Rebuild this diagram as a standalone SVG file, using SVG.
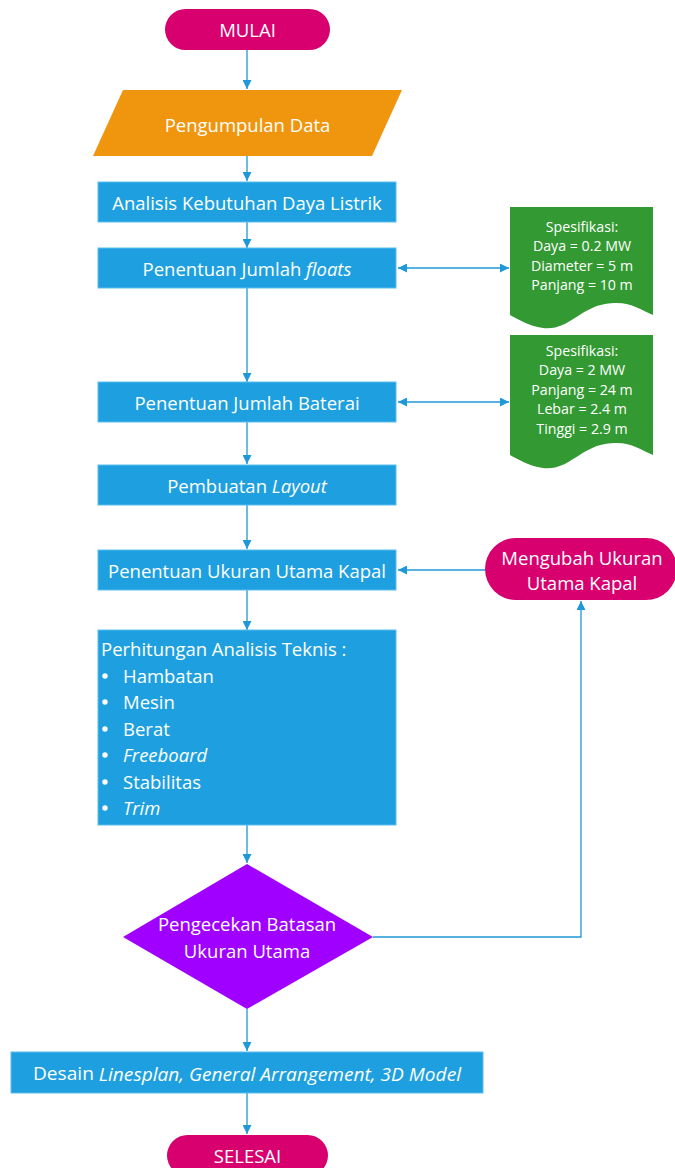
<svg xmlns="http://www.w3.org/2000/svg" width="675" height="1168" viewBox="0 0 675 1168">
<style>
.t{font-family:"Open Sans","Noto Sans",sans-serif;fill:#fff;text-anchor:middle;dominant-baseline:central}
.m{font-size:18.5px}
.s{font-size:14.2px}
.l{text-anchor:start}
.proc{fill:#1EA0E0;stroke:#5BBDEB;stroke-width:1}
.term{fill:#D8006E}
.c{fill:none;stroke:#1E98D6;stroke-width:1.3}
</style>
<defs>
<marker id="a" viewBox="0 0 10 10" refX="10" refY="5" markerWidth="9" markerHeight="9" markerUnits="userSpaceOnUse" orient="auto-start-reverse">
<path d="M0,0 L10,5 L0,10 Z" fill="#1E98D6"/>
</marker>
</defs>
<g id="connectors">
<line class="c" x1="247" y1="50" x2="247" y2="89" marker-end="url(#a)"/>
<line class="c" x1="247" y1="156" x2="247" y2="181" marker-end="url(#a)"/>
<line class="c" x1="247" y1="222" x2="247" y2="248" marker-end="url(#a)"/>
<line class="c" x1="398" y1="268" x2="509" y2="268" marker-start="url(#a)" marker-end="url(#a)"/>
<line class="c" x1="247" y1="288" x2="247" y2="382" marker-end="url(#a)"/>
<line class="c" x1="398" y1="402" x2="509" y2="402" marker-start="url(#a)" marker-end="url(#a)"/>
<line class="c" x1="247" y1="422" x2="247" y2="464" marker-end="url(#a)"/>
<line class="c" x1="247" y1="505" x2="247" y2="549" marker-end="url(#a)"/>
<line class="c" x1="485" y1="570" x2="398" y2="570" marker-end="url(#a)"/>
<line class="c" x1="247" y1="590" x2="247" y2="630" marker-end="url(#a)"/>
<line class="c" x1="247" y1="825" x2="247" y2="863" marker-end="url(#a)"/>
<polyline class="c" points="373,937 581,937 581,601" marker-end="url(#a)"/>
<line class="c" x1="247" y1="1009" x2="247" y2="1051" marker-end="url(#a)"/>
<line class="c" x1="247" y1="1093" x2="247" y2="1134" marker-end="url(#a)"/>
</g>
<g id="mulai">
<rect class="term" x="165" y="9" width="165" height="41" rx="20.5"/>
<text class="t m" x="247.5" y="29.5">MULAI</text>
</g>
<g id="pengumpulan">
<polygon points="123,90 402,90 372,156 93,156" fill="#F0960E"/>
<text class="t m" x="247.5" y="124">Pengumpulan Data</text>
</g>
<g id="analisis">
<rect class="proc" x="98" y="182" width="298" height="40"/>
<text class="t m" x="247" y="202">Analisis Kebutuhan Daya Listrik</text>
</g>
<g id="floats">
<rect class="proc" x="98" y="248" width="298" height="40"/>
<text class="t m" x="247" y="268">Penentuan Jumlah <tspan font-style="italic">floats</tspan></text>
</g>
<g id="spek1">
<path d="M510,207 H653 V315 C638,309 630,300 605,304 C580,308 568,331 543,328 C528,326 518,319 510,315 Z" fill="#339933"/>
<text class="t s" x="582" y="226">Spesifikasi:</text>
<text class="t s" x="582" y="245.5">Daya = 0.2 MW</text>
<text class="t s" x="582" y="265">Diameter = 5 m</text>
<text class="t s" x="582" y="284.5">Panjang = 10 m</text>
</g>
<g id="baterai">
<rect class="proc" x="98" y="382" width="298" height="40"/>
<text class="t m" x="247" y="402">Penentuan Jumlah Baterai</text>
</g>
<g id="spek2">
<path d="M510,335 H653 V455 C638,449 630,440 605,444 C580,448 568,471 543,468 C528,466 518,459 510,455 Z" fill="#339933"/>
<text class="t s" x="582" y="350">Spesifikasi:</text>
<text class="t s" x="582" y="369.5">Daya = 2 MW</text>
<text class="t s" x="582" y="389">Panjang = 24 m</text>
<text class="t s" x="582" y="408.5">Lebar = 2.4 m</text>
<text class="t s" x="582" y="428">Tinggi = 2.9 m</text>
</g>
<g id="layout">
<rect class="proc" x="98" y="465" width="298" height="40"/>
<text class="t m" x="247" y="485">Pembuatan <tspan font-style="italic">Layout</tspan></text>
</g>
<g id="ukuran">
<rect class="proc" x="98" y="550" width="298" height="40"/>
<text class="t m" x="247" y="570">Penentuan Ukuran Utama Kapal</text>
</g>
<g id="mengubah">
<rect class="term" x="485" y="538" width="192" height="62" rx="31"/>
<text class="t m" x="582" y="557">Mengubah Ukuran</text>
<text class="t m" x="582" y="582">Utama Kapal</text>
</g>
<g id="perhitungan">
<rect class="proc" x="98" y="630" width="298" height="195"/>
<text class="t m l" x="101" y="648">Perhitungan Analisis Teknis :</text>
<text class="t m l" x="123" y="675">Hambatan</text>
<text class="t m l" x="123" y="701">Mesin</text>
<text class="t m l" x="123" y="728">Berat</text>
<text class="t m l" x="123" y="754" font-style="italic">Freeboard</text>
<text class="t m l" x="123" y="781">Stabilitas</text>
<text class="t m l" x="123" y="807" font-style="italic">Trim</text>
<g fill="#fff">
<circle cx="105" cy="676" r="2.7"/>
<circle cx="105" cy="702" r="2.7"/>
<circle cx="105" cy="729" r="2.7"/>
<circle cx="105" cy="755" r="2.7"/>
<circle cx="105" cy="782" r="2.7"/>
<circle cx="105" cy="808" r="2.7"/>
</g>
</g>
<g id="pengecekan">
<polygon points="247,864 373,937 247,1009 123,937" fill="#A000FF"/>
<text class="t m" x="247" y="923">Pengecekan Batasan</text>
<text class="t m" x="247" y="950">Ukuran Utama</text>
</g>
<g id="desain">
<rect class="proc" x="11" y="1052" width="472" height="41"/>
<text class="t m" x="247" y="1072.5" textLength="428" lengthAdjust="spacingAndGlyphs">Desain <tspan font-style="italic">Linesplan, General Arrangement, 3D Model</tspan></text>
</g>
<g id="selesai">
<rect class="term" x="167" y="1135" width="161" height="41" rx="20.5"/>
<text class="t m" x="247.5" y="1155.5">SELESAI</text>
</g>
</svg>
